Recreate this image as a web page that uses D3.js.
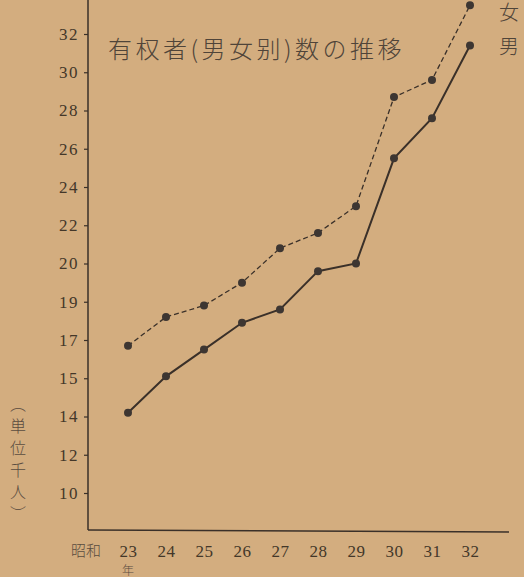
<!DOCTYPE html>
<html>
<head>
<meta charset="utf-8">
<script src="https://cdn.jsdelivr.net/npm/d3@7"></script>
<style>
body { margin: 0; background: #d3ad7f; }
svg { display: block; }
</style>
</head>
<body>
<div id="chart"></div>
<script>

var width = 524,
	height = 577,
	axis_x = 88,
	axis_y = 530,
	ink = "#3a3029",
	serif = "'Liberation Serif', 'DejaVu Serif', serif",
	cjk = "'Noto Sans CJK JP', 'Noto Sans CJK SC', sans-serif";

// data (units: thousand people), Showa year 23..32

var years = ["23","24","25","26","27","28","29","30","31","32"];
var yTicks = [10,12,14,15,17,19,20,22,24,26,28,30,32];
var women = [16.7,18.2,18.8,19.5,20.8,21.6,23.0,28.7,29.6,33.5];
var men   = [14.1,15.1,16.5,17.9,18.6,19.8,20.0,25.5,27.6,31.4];

// scales (the original axis has evenly spaced but irregular ticks)

var tick_step = 38.25,
	tick_base = 493;

var X = d3.scalePoint().domain(years).range([128,470]);
var Y = d3.scaleLinear().domain(yTicks).range(yTicks.map(function(d,i){ return tick_base - i*tick_step; }));

var svg = d3.select("#chart").append("svg")
	.attr("width",width)
	.attr("height",height);

svg.append("rect").attr("width",width).attr("height",height).attr("fill","#d3ad7f");

// axes lines

svg.append("line")
	.attr("x1",axis_x).attr("x2",axis_x)
	.attr("y1",0).attr("y2",axis_y)
	.attr("stroke",ink).attr("stroke-width",1.5);

svg.append("line")
	.attr("x1",axis_x).attr("x2",509)
	.attr("y1",axis_y).attr("y2",axis_y+2)
	.attr("stroke",ink).attr("stroke-width",1.5);

var yAxis = svg.append("g")
	.attr("transform","translate("+axis_x+",0)")
	.call(d3.axisLeft(Y).tickValues(yTicks).tickSize(4).tickPadding(5));

yAxis.select(".domain").remove();
yAxis.selectAll("line").attr("stroke",ink).attr("stroke-width",1.2);
yAxis.selectAll("text")
	.attr("fill","#433729")
	.attr("font-family",serif)
	.attr("font-size","17px")
	.style("letter-spacing","1.5px");

var xAxis = svg.append("g")
	.attr("transform","translate(0,"+(axis_y+9)+")")
	.call(d3.axisBottom(X).tickSize(0).tickPadding(6));

xAxis.select(".domain").remove();
xAxis.selectAll("text")
	.attr("fill","#433729")
	.attr("font-family",serif)
	.attr("font-size","17px")
	.style("letter-spacing","0.5px");

svg.append("text")
	.attr("x",86).attr("y",556)
	.attr("text-anchor","middle")
	.attr("fill","#5a4c40")
	.style("font-family",cjk).style("font-size","15px").style("font-weight",300)
	.text("昭和");

svg.append("text")
	.attr("x",X("23")).attr("y",575)
	.attr("text-anchor","middle")
	.attr("fill","#5a4c40")
	.style("font-family",cjk).style("font-size","12px").style("font-weight",300)
	.text("年");

// unit label, vertical

var unit = ["︵","単","位","千","人","︶"];
svg.selectAll(".unit").data(unit).enter().append("text")
	.attr("class","unit")
	.attr("x",18)
	.attr("y",function(d,i){ return 410 + i*22; })
	.attr("text-anchor","middle")
	.attr("fill","#5a4c40")
	.style("font-family",cjk).style("font-size","16px").style("font-weight",300)
	.text(function(d){ return d; });

// title

svg.append("text")
	.attr("x",108).attr("y",58)
	.attr("fill","#4f4439")
	.style("font-family",cjk).style("font-size","24px").style("font-weight",300)
	.style("letter-spacing","3.5px")
	.text("有权者(男女别)数の推移");

// legend labels

svg.append("text")
	.attr("x",509).attr("y",20)
	.attr("text-anchor","middle")
	.attr("fill","#4f4439")
	.style("font-family",cjk).style("font-size","20px").style("font-weight",300)
	.text("女");

svg.append("text")
	.attr("x",509).attr("y",54)
	.attr("text-anchor","middle")
	.attr("fill","#4f4439")
	.style("font-family",cjk).style("font-size","20px").style("font-weight",300)
	.text("男");

// lines and dots

var line = d3.line()
	.x(function(d,i){ return X(years[i]); })
	.y(function(d){ return Y(d); });

svg.append("path")
	.datum(women)
	.attr("d",line)
	.attr("fill","none")
	.attr("stroke",ink)
	.attr("stroke-width",1.3)
	.attr("stroke-dasharray","5,3");

svg.append("path")
	.datum(men)
	.attr("d",line)
	.attr("fill","none")
	.attr("stroke",ink)
	.attr("stroke-width",2);

[women,men].forEach(function(series){
	svg.append("g").selectAll("circle").data(series).enter().append("circle")
		.attr("cx",function(d,i){ return X(years[i]); })
		.attr("cy",function(d){ return Y(d); })
		.attr("r",4)
		.attr("fill","#3d3632");
});

</script>
</body>
</html>
